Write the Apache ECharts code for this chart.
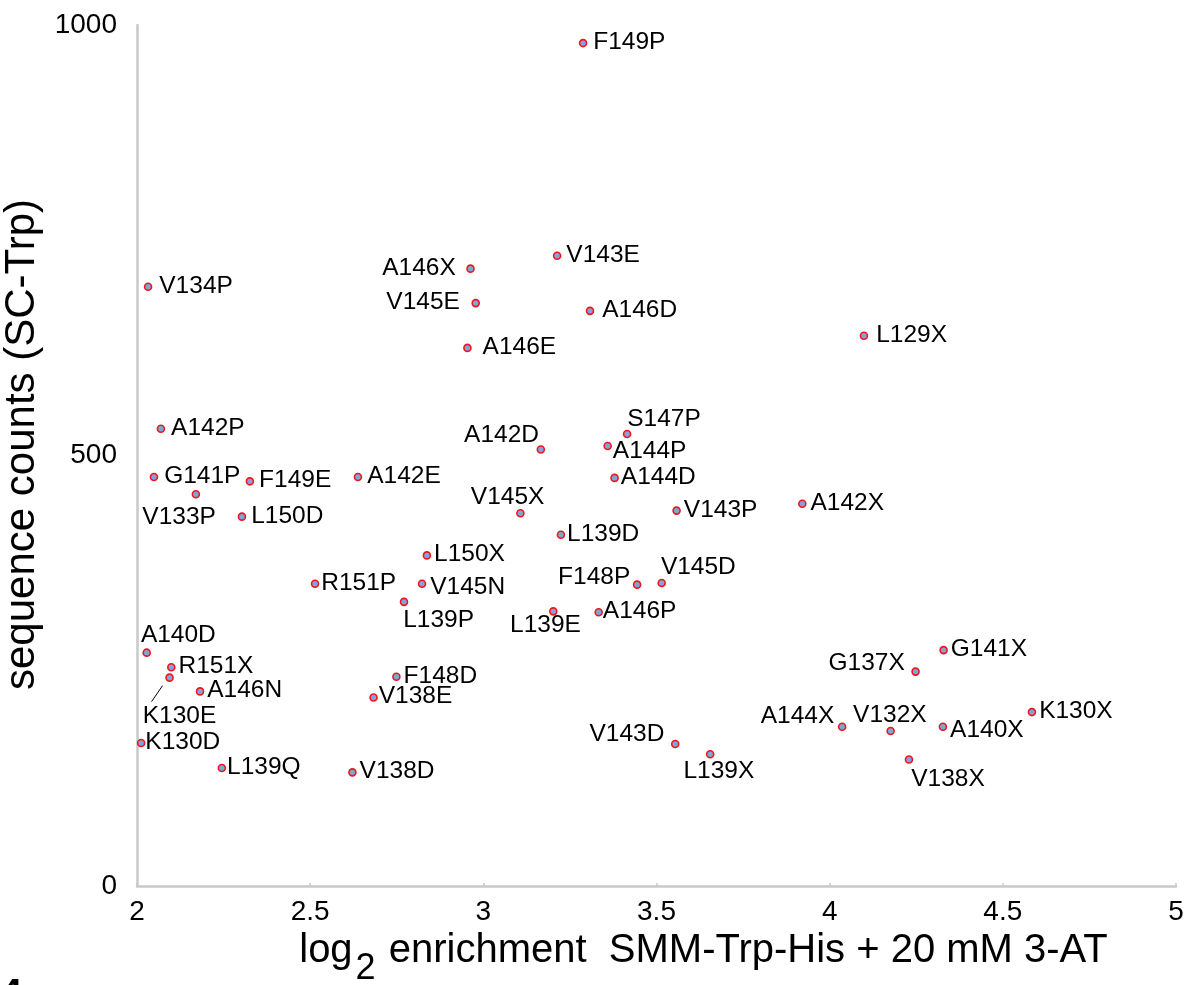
<!DOCTYPE html>
<html>
<head>
<meta charset="utf-8">
<title>SC-Trp counts vs log2 enrichment</title>
<script src="https://cdn.jsdelivr.net/npm/echarts@6/dist/echarts.min.js"></script>
<style>
  html, body { margin: 0; padding: 0; background: #fff; }
  #main { width: 1190px; height: 985px; }
</style>
</head>
<body>
<div id="main"></div>
<script>
// mutant names, x = log2 enrichment, y = sequence counts
const mutants = [
  'F149P', 'V143E', 'A146X', 'V145E', 'A146D', 'A146E', 'V134P', 'L129X',
  'A142P', 'G141P', 'F149E', 'A142E', 'V133P', 'L150D', 'A142D', 'S147P',
  'A144P', 'A144D', 'V145X', 'V143P', 'A142X', 'L139D', 'L150X', 'F148P',
  'V145D', 'L139E', 'A146P', 'R151P', 'V145N', 'L139P', 'A140D', 'R151X',
  'K130E', 'A146N', 'K130D', 'L139Q', 'V138E', 'F148D', 'V138D', 'G141X',
  'G137X', 'A144X', 'V132X', 'A140X', 'K130X', 'V138X', 'V143D', 'L139X'
];
const log2Enrichment = [
  3.288, 3.213, 2.963, 2.978, 3.308, 2.954, 2.032, 4.099,
  2.069, 2.049, 2.326, 2.638, 2.170, 2.303, 3.166, 3.415,
  3.359, 3.379, 3.107, 3.558, 3.921, 3.224, 2.837, 3.444,
  3.515, 3.202, 3.333, 2.514, 2.823, 2.771, 2.028, 2.099,
  2.094, 2.182, 2.012, 2.245, 2.683, 2.749, 2.622, 4.329,
  4.248, 4.036, 4.176, 4.327, 4.584, 4.229, 3.554, 3.655
];
const seqCounts = [
  979, 732, 717, 677, 668, 625, 696, 639,
  531, 475, 470, 475, 455, 429, 507, 525,
  511, 474, 433, 436, 444, 408, 384, 350,
  352, 319, 318, 351, 351, 330, 271, 254,
  242, 226, 166, 137, 219, 243, 132, 274,
  249, 185, 180, 185, 202, 147, 165, 153
];
const xTicks = { min: 2, max: 5, step: 0.5 };
const yTicks = { min: 0, max: 1000, step: 500 };

// label anchor relative to the dot: [dx, dy, align]
const labelPlace = {
  'F149P': [11, 0, 'left'], 'V143E': [10, 0, 'left'], 'A146X': [-14, 0, 'right'],
  'V145E': [-15, 0, 'right'], 'A146D': [13, 0, 'left'], 'A146E': [16, 0, 'left'],
  'V134P': [12, 0, 'left'], 'L129X': [13, 0, 'left'], 'A142P': [11, 0, 'left'],
  'G141P': [11, 0, 'left'], 'F149E': [10, 0, 'left'], 'A142E': [10, 0, 'left'],
  'V133P': [-16, 24, 'center'], 'L150D': [10, 0, 'left'], 'A142D': [-1, -13, 'right'],
  'S147P': [1, -14, 'left'], 'A144P': [6, 6, 'left'], 'A144D': [7, 0, 'left'],
  'V145X': [-12, -15, 'center'], 'V143P': [8, 0, 'left'], 'A142X': [9, 0, 'left'],
  'L139D': [7, 0, 'left'], 'L150X': [8, 0, 'left'], 'F148P': [-6, -7, 'right'],
  'V145D': [0, -15, 'left'], 'L139E': [-7, 15, 'center'], 'A146P': [5, 0, 'left'],
  'R151P': [7, 0, 'left'], 'V145N': [9, 4, 'left'], 'L139P': [0, 19, 'left'],
  'A140D': [-5, -17, 'left'], 'R151X': [8, 0, 'left'], 'K130E': [-26, 39, 'left'],
  'A146N': [8, 0, 'left'], 'K130D': [5, 0, 'left'], 'L139Q': [6, 0, 'left'],
  'V138E': [6, 0, 'left'], 'F148D': [8, 0, 'left'], 'V138D': [8, 0, 'left'],
  'G141X': [8, 0, 'left'], 'G137X': [-10, -8, 'right'], 'A144X': [-7, -10, 'right'],
  'V132X': [0, -15, 'center'], 'A140X': [8, 4, 'left'], 'K130X': [8, 0, 'left'],
  'V138X': [3, 21, 'left'], 'V143D': [-10, -9, 'right'], 'L139X': [-26, 18, 'left']
};
// short leader line from the dot towards its label
const leaders = { 'K130E': [[-7, 8], [-18, 24]] };

const FONT = '"Liberation Sans", Arial, Helvetica, sans-serif';
const AXIS_GREY = '#c9c9c9';
const SYM = 7;

const points = mutants.map(function (name, i) {
  const p = labelPlace[name] || [9, 0, 'left'];
  return {
    name: name,
    value: [log2Enrichment[i], seqCounts[i]],
    label: {
      position: [SYM / 2 + p[0], SYM / 2 + p[1]],
      align: p[2],
      verticalAlign: 'middle'
    }
  };
});

const chart = echarts.init(document.getElementById('main'), null, { renderer: 'canvas' });

chart.setOption({
  backgroundColor: '#fff',
  animation: false,
  grid: { left: 137, right: 14, top: 25, bottom: 99, containLabel: false, outerBoundsMode: 'none' },
  xAxis: {
    type: 'value',
    min: xTicks.min, max: xTicks.max, interval: xTicks.step,
    splitLine: { show: false },
    axisLine: { lineStyle: { color: AXIS_GREY, width: 2.5 } },
    axisTick: { show: true, inside: true, length: 3, lineStyle: { color: AXIS_GREY, width: 1.5 } },
    axisLabel: { color: '#000', fontSize: 28, fontFamily: FONT, margin: 12, showMinLabel: true, showMaxLabel: true },
    name: '{a|log}{s|2}{a| enrichment  SMM-Trp-His + 20 mM 3-AT}',
    nameLocation: 'middle',
    nameGap: 40,
    nameTextStyle: {
      padding: [0, 0, 0, 94],
      rich: {
        a: { fontSize: 40, fontFamily: FONT, color: '#000', verticalAlign: 'top', lineHeight: 40 },
        s: { fontSize: 36, fontFamily: FONT, color: '#000', verticalAlign: 'top', lineHeight: 40, padding: [20, 2, 0, 3] }
      }
    }
  },
  yAxis: {
    type: 'value',
    min: yTicks.min, max: yTicks.max, interval: yTicks.step,
    splitLine: { show: false },
    axisLine: { show: true, lineStyle: { color: AXIS_GREY, width: 2.5 } },
    axisTick: { show: false },
    axisLabel: { color: '#000', fontSize: 28, fontFamily: FONT, margin: 20, formatter: function (v) { return String(v); } },
    name: 'sequence counts (SC-Trp)',
    nameLocation: 'middle',
    nameGap: 74,
    nameTextStyle: { fontSize: 42, fontFamily: FONT, color: '#000', padding: [0, 0, 0, 22] }
  },
  series: [{
    type: 'scatter',
    symbol: 'circle',
    symbolSize: SYM,
    itemStyle: { color: '#7ea7d8', borderColor: '#f0141e', borderWidth: 1.6, opacity: 1 },
    label: { show: true, formatter: '{b}', color: '#000', fontSize: 24.5, fontFamily: FONT },
    labelLayout: { hideOverlap: false },
    data: points
  }],
  graphic: [{
    id: 'panel-number',
    type: 'text', left: 0, top: 976, silent: true,
    style: { text: '4', font: 'bold 40px ' + FONT, fill: '#000' }
  }]
});

// leader lines anchored to the dot through the chart's own scales
const leaderGraphics = Object.keys(leaders).map(function (name) {
  const i = mutants.indexOf(name);
  const c = chart.convertToPixel({ xAxisIndex: 0, yAxisIndex: 0 }, [log2Enrichment[i], seqCounts[i]]);
  const seg = leaders[name];
  return {
    id: 'leader-' + name,
    type: 'line', silent: true, z: 10,
    shape: { x1: c[0] + seg[0][0], y1: c[1] + seg[0][1], x2: c[0] + seg[1][0], y2: c[1] + seg[1][1] },
    style: { stroke: '#000', lineWidth: 1 }
  };
});
chart.setOption({ graphic: leaderGraphics });
</script>
</body>
</html>
